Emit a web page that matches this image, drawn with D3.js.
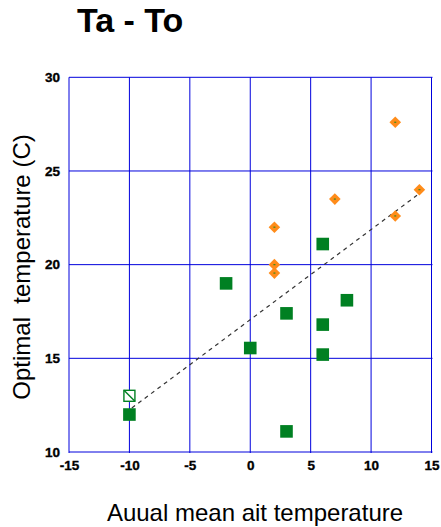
<!DOCTYPE html>
<html><head><meta charset="utf-8">
<script src="https://cdn.jsdelivr.net/npm/d3@7"></script>
<style>body{margin:0;background:#fff}svg{display:block}</style>
</head><body>
<svg id="c" width="441" height="527"></svg>
<script>
const xTicks = [-15, -10, -5, 0, 5, 10, 15];
const yTicks = [10, 15, 20, 25, 30];
const greenX = [-10, -2, 0, 3, 3, 6, 6, 6, 8];
const greenY = [12.0, 19.0, 15.55, 17.4, 11.1, 21.1, 16.8, 15.2, 18.1];
const hollowX = [-10];
const hollowY = [13.0];
const orangeX = [2, 2, 2, 7, 12, 12, 14];
const orangeY = [19.55, 20.0, 22.0, 23.5, 22.6, 27.6, 24.0];
const trendX = [-9.8, 13.8];
const trendY = [12.35, 23.7];

const svg = d3.select("#c");
const x = d3.scaleLinear().domain([-15, 15]).range([69, 431.5]);
const y = d3.scaleLinear().domain([10, 30]).range([452, 77.3]);
const blue = "#0000dd";
const green = "#008022";
const orange = "#ff8c1a";
const FONT = "'Liberation Sans', Arial, sans-serif";

svg.append("text").attr("x", 77).attr("y", 32)
  .style("font-family", FONT)
  .style("font-weight", "bold").style("font-size", "34px").text("Ta - To");

// grid
const g = svg.append("g");
g.selectAll("line.v").data(xTicks).join("line")
  .attr("x1", d => x(d)).attr("x2", d => x(d))
  .attr("y1", y(30)).attr("y2", y(10) + 1)
  .attr("stroke", blue).attr("stroke-width", 1);
g.selectAll("line.h").data(yTicks).join("line")
  .attr("y1", d => y(d)).attr("y2", d => y(d))
  .attr("x1", x(-15)).attr("x2", x(15) + 1)
  .attr("stroke", blue).attr("stroke-width", 1);

// axes labels (ticks)
const fmt = d => String(d);
const xAxis = d3.axisBottom(x).tickValues(xTicks).tickSize(0).tickPadding(0).tickFormat(fmt);
const gx = svg.append("g").attr("transform", `translate(0,${y(10)})`).call(xAxis);
gx.select(".domain").remove();
gx.selectAll("text").attr("y", 18).attr("dy", 0)
  .style("font-family", FONT)
  .style("font-weight", "bold").style("font-size", "13.5px")
  .attr("fill", "#000").attr("stroke", "#000").attr("stroke-width", 0.35);

const yAxis = d3.axisLeft(y).tickValues(yTicks).tickSize(0).tickPadding(9).tickFormat(fmt);
const gy = svg.append("g").attr("transform", `translate(${x(-15)},0)`).call(yAxis);
gy.select(".domain").remove();
gy.selectAll("text").attr("dy", "0.3em")
  .style("font-family", FONT)
  .style("font-weight", "bold").style("font-size", "13.5px")
  .attr("fill", "#000").attr("stroke", "#000").attr("stroke-width", 0.35);

// trend line
svg.append("line")
  .attr("x1", x(trendX[0])).attr("y1", y(trendY[0]))
  .attr("x2", x(trendX[1])).attr("y2", y(trendY[1]))
  .attr("stroke", "#333").attr("stroke-width", 1.2).attr("stroke-dasharray", "4,4");

// hollow square
const hs = 11;
const hollow = svg.append("g").selectAll("g").data(hollowX.map((d, i) => [d, hollowY[i]])).join("g");
hollow.append("rect").attr("x", d => x(d[0]) - hs / 2).attr("y", d => y(d[1]) - hs / 2)
  .attr("width", hs).attr("height", hs).attr("fill", "#fff")
  .attr("stroke", green).attr("stroke-width", 1.4);
hollow.append("line").attr("x1", d => x(d[0]) - hs / 2).attr("y1", d => y(d[1]) - hs / 2)
  .attr("x2", d => x(d[0]) + hs / 2).attr("y2", d => y(d[1]) + hs / 2)
  .attr("stroke", green).attr("stroke-width", 1.4);

// green squares
const gs = 12.6;
svg.append("g").selectAll("rect").data(greenX.map((d, i) => [d, greenY[i]])).join("rect")
  .attr("x", d => x(d[0]) - gs / 2).attr("y", d => y(d[1]) - gs / 2)
  .attr("width", gs).attr("height", gs).attr("fill", green);

// orange diamonds
const ds = 5.8;
const dia = svg.append("g").selectAll("g").data(orangeX.map((d, i) => [d, orangeY[i]])).join("g")
  .attr("transform", d => `translate(${x(d[0])},${y(d[1])})`);
dia.append("path").attr("d", `M0,${-ds}L${ds},0L0,${ds}L${-ds},0Z`).attr("fill", orange);
dia.append("rect").attr("x", -1).attr("y", -0.6).attr("width", 2).attr("height", 1.2).attr("fill", "#3a8a1a");

// axis titles
svg.append("text").attr("transform", `translate(30,267) rotate(-90)`)
  .attr("text-anchor", "middle")
  .style("font-family", FONT)
  .style("font-size", "24px").attr("fill", "#000")
  .style("white-space", "pre")
  .text("Optimal  temperature (C)");

svg.append("text").attr("x", 255).attr("y", 521)
  .attr("text-anchor", "middle")
  .style("font-family", FONT)
  .style("font-size", "24px").attr("fill", "#000")
  .text("Auual mean ait temperature");
</script>
</body></html>
